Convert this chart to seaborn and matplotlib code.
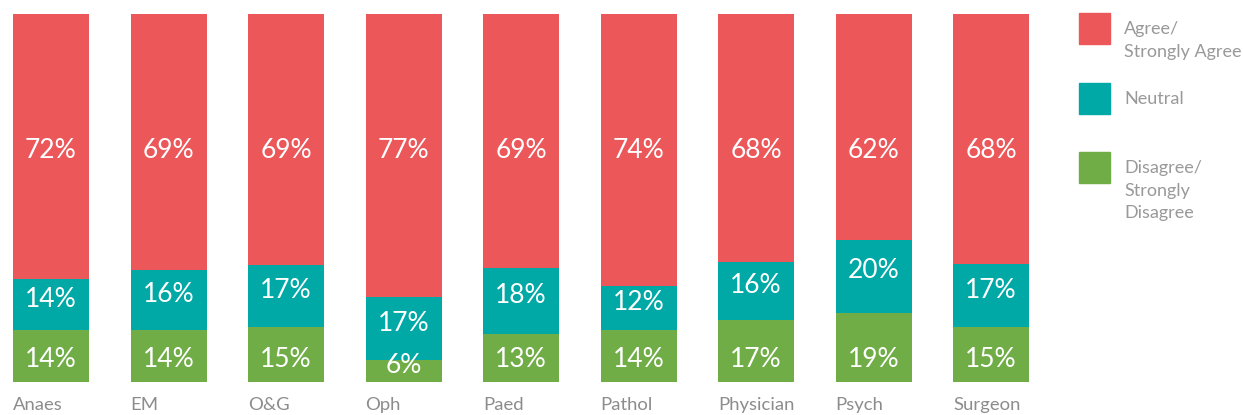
import numpy as np
import pandas as pd
import matplotlib
matplotlib.use("Agg")
import matplotlib.pyplot as plt
from matplotlib.patches import Rectangle
import seaborn as sns

categories = ["Anaes", "EM", "O&G", "Oph", "Paed", "Pathol", "Physician", "Psych", "Surgeon"]
agree = [72, 69, 69, 77, 69, 74, 68, 62, 68]
neutral = [14, 16, 17, 17, 18, 12, 16, 20, 17]
disagree = [14, 14, 15, 6, 13, 14, 17, 19, 15]
legend_labels = ["Agree/\nStrongly Agree", "Neutral", "Disagree/\nStrongly\nDisagree"]

RED = "#EC575A"
TEAL = "#00A9A5"
GREEN = "#70AD47"

sns.set_theme(style="white")
plt.rcParams["font.family"] = ["Lato", "DejaVu Sans"]

df = pd.DataFrame({"cat": categories, "agree": agree, "neutral": neutral, "disagree": disagree})
tot = df["agree"] + df["neutral"] + df["disagree"]
df["top_red"] = 100.0
df["top_teal"] = (df["disagree"] + df["neutral"]) / tot * 100
df["top_green"] = df["disagree"] / tot * 100

W, H = 1243, 415
fig = plt.figure(figsize=(W / 100, H / 100), dpi=100)
ax = fig.add_axes([13 / W, (H - 382) / H, (1029 - 13) / W, (382 - 14) / H])

bw = 76 / 117.5
for col, color in [("top_red", RED), ("top_teal", TEAL), ("top_green", GREEN)]:
    sns.barplot(data=df, x="cat", y=col, color=color, width=bw, ax=ax,
                saturation=1, linewidth=0, edgecolor="none")

ax.set_ylim(0, 100)
ax.set_xlim(-bw / 2, len(categories) - 1 + bw / 2)
for s in ax.spines.values():
    s.set_visible(False)
ax.set_yticks([])
ax.set_xlabel("")
ax.set_ylabel("")
ax.set_xticks(np.arange(len(categories)) - bw / 2)
ax.set_xticklabels(categories, ha="left", color="#8C8C8C", fontsize=13.3)
ax.tick_params(axis="x", length=0, pad=10.5)

FS = 19
for i in range(len(categories)):
    ax.text(i, 63.0, f"{agree[i]}%", ha="center", va="center", color="white", fontsize=FS)
    tc = (df["top_green"][i] + df["top_teal"][i]) / 2 + 1.5
    ax.text(i, tc, f"{neutral[i]}%", ha="center", va="center", color="white", fontsize=FS)
    gy = 6.0 if disagree[i] >= 8 else 4.6
    ax.text(i, gy, f"{disagree[i]}%", ha="center", va="center", color="white", fontsize=FS)

# legend drawn manually
leg_colors = [RED, TEAL, GREEN]
leg_tops = [13, 83, 152]
for c, t, lab in zip(leg_colors, leg_tops, legend_labels):
    fig.patches.append(Rectangle((1079 / W, (H - t - 31) / H), 31 / W, 31 / H,
                                 transform=fig.transFigure, color=c, figure=fig))
    nlines = lab.count("\n") + 1
    if nlines == 1:
        fig.text(1124 / W, (H - t - 16) / H, lab, ha="left", va="center",
                 color="#999999", fontsize=13, linespacing=1.5)
    else:
        fig.text(1124 / W, (H - t - 8) / H, lab, ha="left", va="top",
                 color="#999999", fontsize=13, linespacing=1.5)

fig.savefig("out.png", dpi=100)
